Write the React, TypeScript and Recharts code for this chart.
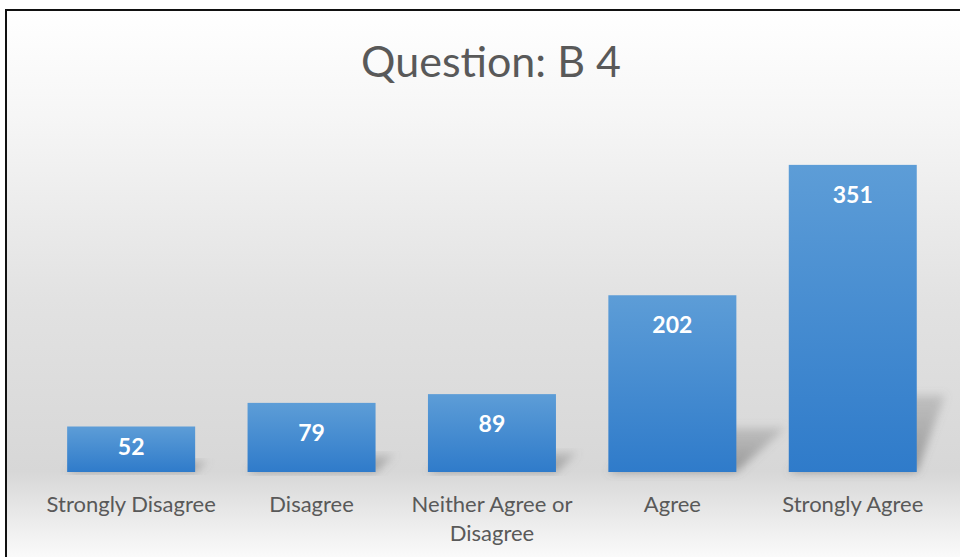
import { BarChart, Bar, XAxis, YAxis, LabelList, Text } from "recharts";

const categories = ["Strongly Disagree", "Disagree", "Neither Agree or Disagree", "Agree", "Strongly Agree"];
const responses = [52, 79, 89, 202, 351];

const data = categories.map((name, i) => ({ name, count: responses[i] }));

const PLOT_RIGHT = 945;
const FONT = "Lato, 'Open Sans', sans-serif";

// bar with a slanted floor shadow behind it
function ShadowBar(props: any) {
  const { x, y, width, height } = props;
  if (!height || height <= 0) return null;
  const base = y + height;
  const hs = height * 0.25;
  const shift = height * 0.28;
  const pts = [
    [x, base],
    [Math.min(x + width, PLOT_RIGHT), base],
    [Math.min(x + width + shift, PLOT_RIGHT), base - hs],
    [Math.min(x + shift, PLOT_RIGHT), base - hs],
  ]
    .map((p) => p.join(","))
    .join(" ");
  return (
    <g>
      <polygon points={pts} fill="url(#shadowFill)" filter="url(#blur)" />
      <rect x={x} y={y} width={width} height={height} fill="url(#barFill)" />
    </g>
  );
}

function ValueLabel(props: any) {
  const { x, y, width, height, value } = props;
  const off = Math.min(29, height * 0.42);
  return (
    <text
      x={x + width / 2}
      y={y + off}
      textAnchor="middle"
      dominantBaseline="central"
      fill="#ffffff"
      fontSize={23}
      fontWeight="bold"
      fontFamily={FONT}
    >
      {value}
    </text>
  );
}

function CategoryTick(props: any) {
  const { x, y, payload } = props;
  return (
    <Text
      x={x}
      y={y + 16}
      width={176}
      textAnchor="middle"
      verticalAnchor="start"
      lineHeight={29}
      fill="#595959"
      style={{ fontSize: 22, fontFamily: FONT }}
    >
      {payload.value}
    </Text>
  );
}

export default function App() {
  return (
    <div style={{ position: "absolute", left: 0, top: 0, width: 960, height: 557, overflow: "hidden", background: "#fff" }}>
      <div
        style={{
          position: "absolute",
          left: 5,
          top: 9,
          width: 980,
          height: 580,
          border: "2px solid #111",
          boxSizing: "border-box",
          background:
            "linear-gradient(to bottom, #ffffff 0%, #f6f6f6 18%, #e2e2e2 50%, #d7d7d7 80%, #efefef 90%, #ffffff 97%)",
        }}
      />
      <div
        style={{
          position: "absolute",
          left: 0,
          top: 35,
          width: 982,
          textAlign: "center",
          fontFamily: FONT,
          fontSize: 43,
          color: "#595959",
          lineHeight: "52px",
        }}
      >
        Question: B 4
      </div>
      <div style={{ position: "absolute", left: 0, top: 0 }}>
        <BarChart
          width={960}
          height={557}
          data={data}
          margin={{ top: 122, right: 17, bottom: 25, left: 41 }}
          barCategoryGap="14.5%"
        >
          <defs>
            <linearGradient id="barFill" x1="0" y1="0" x2="0" y2="1">
              <stop offset="0%" stopColor="#5d9dd7" />
              <stop offset="100%" stopColor="#2f7bca" />
            </linearGradient>
            <linearGradient id="shadowFill" x1="0" y1="1" x2="0" y2="0">
              <stop offset="0%" stopColor="#6a6a6a" stopOpacity={0.6} />
              <stop offset="100%" stopColor="#808080" stopOpacity={0.3} />
            </linearGradient>
            <filter id="blur" x="-20%" y="-20%" width="140%" height="140%">
              <feGaussianBlur stdDeviation="4" />
            </filter>
          </defs>
          <XAxis
            dataKey="name"
            axisLine={false}
            tickLine={false}
            height={60}
            interval={0}
            tick={<CategoryTick />}
          />
          <YAxis hide domain={[0, 400]} />
          <Bar dataKey="count" shape={<ShadowBar />} isAnimationActive={false}>
            <LabelList dataKey="count" content={<ValueLabel />} />
          </Bar>
        </BarChart>
      </div>
    </div>
  );
}
